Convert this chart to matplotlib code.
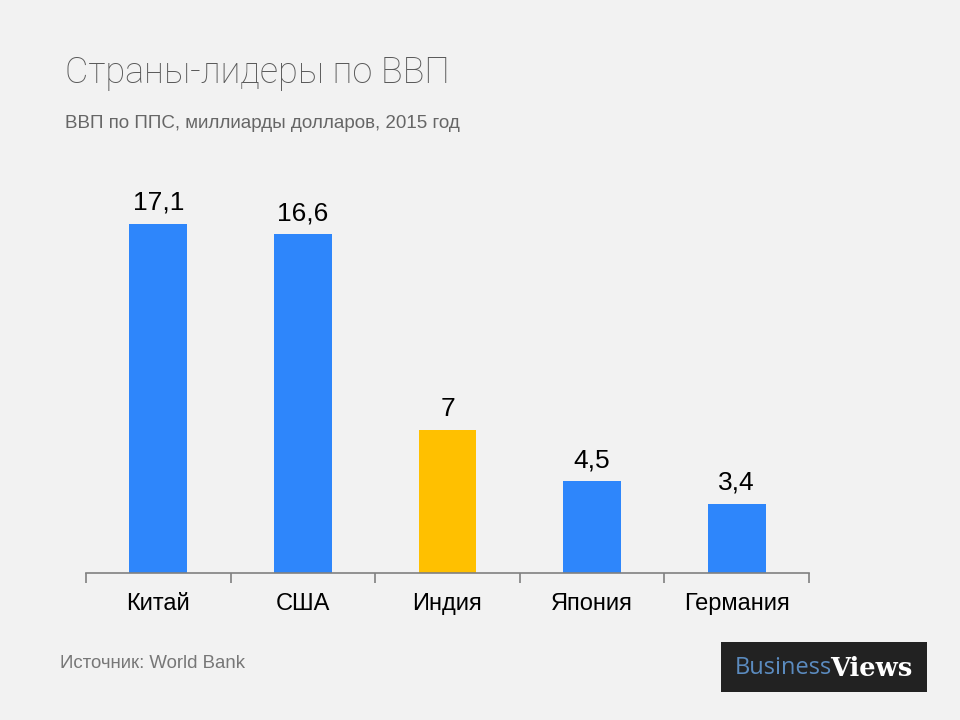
import matplotlib.pyplot as plt
from matplotlib.patches import Rectangle

# Data
countries = ['Китай', 'США', 'Индия', 'Япония', 'Германия']
gdp = [17.1, 16.6, 7, 4.5, 3.4]
labels = ['17,1', '16,6', '7', '4,5', '3,4']
bar_colors = ['#2e86fb', '#2e86fb', '#ffc000', '#2e86fb', '#2e86fb']

bg = '#f2f2f2'
fig = plt.figure(figsize=(9.6, 7.2), dpi=100, facecolor=bg)
ax = fig.add_axes([86 / 960, (720 - 573) / 720, (809 - 86) / 960, (573 - 150) / 720])
ax.set_facecolor(bg)

x = range(len(countries))
ax.bar(x, gdp, width=0.4, color=bar_colors)
for i, (v, lab) in enumerate(zip(gdp, labels)):
    ax.text(i, v + 0.45, lab, ha='center', va='bottom', fontsize=19,
            family='Liberation Sans', color='black')

ax.set_xlim(-0.5, len(countries) - 0.5)
ax.set_ylim(0, (573 - 150) / 20.4)

# axis line with boundary ticks
for s in ['top', 'right', 'left']:
    ax.spines[s].set_visible(False)
ax.spines['bottom'].set_color('#808080')
ax.spines['bottom'].set_linewidth(1.2)
ax.set_yticks([])
ax.set_xticks([i - 0.5 for i in range(len(countries) + 1)])
ax.set_xticklabels([])
ax.tick_params(axis='x', length=7, color='#808080', width=1.2)
for i, c in enumerate(countries):
    ax.text(i, -1.0, c, ha='center', va='top', fontsize=17,
            family='Liberation Sans', color='black')

# titles
fig.text(65 / 960, 1 - 73 / 720, 'Страны-лидеры по ВВП', fontsize=26,
         family='Roboto', fontweight='light', color='#595959', va='center')
fig.text(65 / 960, 1 - 123 / 720, 'ВВП по ППС, миллиарды долларов, 2015 год',
         fontsize=13.5, family='Liberation Sans', color='#666666', va='center')
fig.text(60 / 960, 1 - 664 / 720, 'Источник: World Bank', fontsize=13.4,
         family='Liberation Sans', color='#777777', va='center')

# logo
fig.patches.append(Rectangle((721 / 960, 1 - 692 / 720), 206 / 960, 50 / 720,
                             transform=fig.transFigure, facecolor='#222222',
                             edgecolor='none'))
fig.text(735 / 960, 1 - 668 / 720, 'Business', fontsize=17, family='Open Sans',
         color='#5b8bbf', va='center', ha='left')
fig.text(912 / 960, 1 - 668 / 720, 'Views', fontsize=18.5, family='DejaVu Serif',
         fontweight='bold', color='white', va='center', ha='right')

fig.savefig('out.png', dpi=100, facecolor=bg)
